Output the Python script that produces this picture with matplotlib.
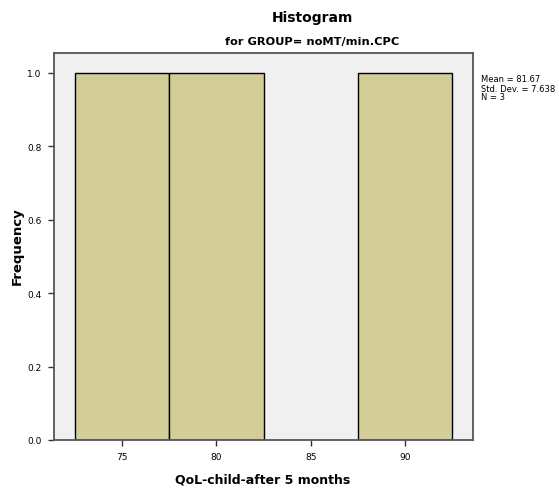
import matplotlib
matplotlib.use("Agg")
import matplotlib.pyplot as plt

# Histogram bins (lower edge, upper edge) and frequencies
bin_left = [72.5, 77.5, 82.5, 87.5]
bin_right = [77.5, 82.5, 87.5, 92.5]
counts = [1, 1, 0, 1]

x_ticks = [75, 80, 85, 90]
y_ticks = [0.0, 0.2, 0.4, 0.6, 0.8, 1.0]

mean_val = 81.67
std_val = 7.638
n_val = 3

fig = plt.figure(figsize=(5.59, 4.89), dpi=100)
fig.patch.set_facecolor("white")
ax = fig.add_axes([54 / 559, 1 - 441 / 489, (473 - 54) / 559, (441 - 54) / 489])
ax.set_facecolor("#f0f0f0")

for l, r, c in zip(bin_left, bin_right, counts):
    if c > 0:
        ax.bar(l, c, width=r - l, align="edge", color="#d3ce98",
               edgecolor="black", linewidth=1.0, zorder=2)

ax.set_xlim(71.4, 93.6)
ax.set_ylim(0, 1.054)
ax.set_xticks(x_ticks)
ax.set_xticklabels([str(t) for t in x_ticks], fontsize=6.5)
ax.set_yticks(y_ticks)
ax.set_yticklabels([f"{t:.1f}" for t in y_ticks], fontsize=6.5)
ax.tick_params(direction="out", length=4, width=1, color="#333333", pad=5)

for s in ax.spines.values():
    s.set_color("#555555")
    s.set_linewidth(1.3)

fig.text(263 / 559, 1 - 480 / 489, "QoL-child-after 5 months", ha="center", va="center",
         fontsize=9, fontweight="bold")
fig.text(17 / 559, 1 - 246 / 489, "Frequency", ha="center", va="center", rotation=90,
         fontsize=9.5, fontweight="bold")

fig.text(312 / 559, 1 - 18 / 489, "Histogram", ha="center", va="center",
         fontsize=10, fontweight="bold")
fig.text(312 / 559, 1 - 42 / 489, "for GROUP= noMT/min.CPC", ha="center", va="center",
         fontsize=8.2, fontweight="bold")

fig.text(481 / 559, 1 - 89 / 489,
         f"Mean = {mean_val}\nStd. Dev. = {std_val}\nN = {n_val}",
         ha="left", va="center", fontsize=6, linespacing=1.0)

fig.savefig("out.png", dpi=100)
